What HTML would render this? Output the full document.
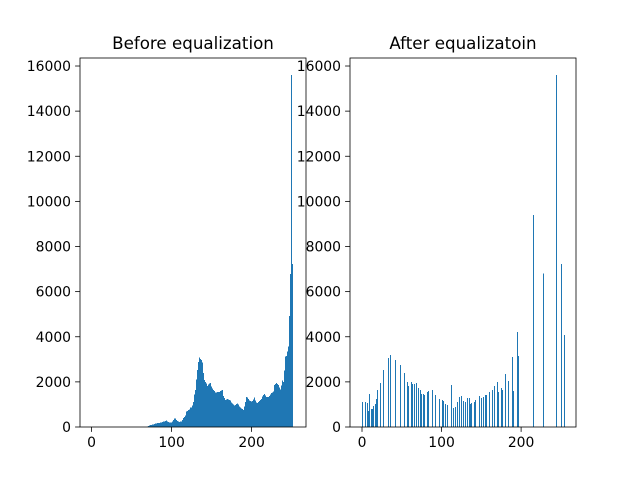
<!DOCTYPE html>
<html><head><meta charset="utf-8"><style>
html,body{margin:0;padding:0;background:#fff;}
svg{display:block;font-family:"DejaVu Sans","Liberation Sans",sans-serif;}
</style></head><body>
<svg id="fig" width="640" height="480" viewBox="0 0 640 480"></svg>
<script>
// Before equalization: counts for bins starting at 70
const beforeStart = 70;
const beforeCounts = [20,40,60,70,80,90,100,110,120,140,150,160,170,170,180,180,200,210,220,230,240,250,270,280,250,240,220,200,190,190,
200,250,300,350,380,370,300,260,240,230,230,240,240,250,300,400,450,520,600,680,720,760,780,840,860,870,950,1100,1230,1450,
1640,2100,2525,2750,2880,3070,3020,2970,2850,2750,2400,2080,2000,1930,1870,1820,1880,1930,1940,1930,1800,1700,1640,1600,1560,1520,1540,1560,1560,1560,
1560,1600,1620,1640,1500,1370,1280,1200,1210,1220,1230,1210,1190,1170,1130,1090,1050,1000,960,930,980,1020,1050,990,930,900,860,830,800,770,
750,900,1110,1220,1340,1300,1230,1170,1150,1130,1120,1160,1220,1260,1300,1180,1080,1060,1050,1100,1150,1200,1240,1270,1350,1420,1460,1400,1340,1340,
1340,1340,1380,1420,1450,1500,1540,1565,1700,1860,1910,1960,1900,1860,1860,1750,1670,1850,2050,2000,2000,2500,3120,3130,3150,3350,3560,4920,5800,6780,
15600,7220];
// After equalization: bin positions and counts
const afterBins = [0,1,5,7,8,10,12,13,15,17,18,20,23,27,33,36,42,48,53,57,58,62,64,66,68,71,73,75,77,79,82,83,88,92,93,97,98,101,102,105,107,108,112,113,115,117,118,120,122,123,125,127,128,130,133,135,137,138,141,143,148,150,153,155,157,160,164,167,170,172,175,177,180,184,189,190,195,197,215,228,244,251,254];
const afterCounts = [1110,800,1110,1065,710,1465,800,800,930,1020,1240,1640,1950,2530,3060,3200,2975,2750,2400,2000,1820,2000,1910,1910,1950,1730,1640,1465,1465,1420,1555,1600,1640,1420,1290,1240,1200,1200,1155,1020,890,975,1865,845,845,800,890,1110,1330,1240,1375,1110,1155,1110,1290,1290,1020,1065,1110,1200,1375,1290,1330,1420,1420,1555,1640,1820,2000,1555,1730,1640,2350,2040,3110,1600,4220,3150,9400,6800,15600,7220,4085];
const xTicks = [0,100,200];
const yTicks = [0,2000,4000,6000,8000,10000,12000,14000,16000];

const NS = "http://www.w3.org/2000/svg";
const svg = document.getElementById('fig');
function mk(tag, attrs, parent){const e=document.createElementNS(NS,tag);for(const k in attrs)e.setAttribute(k,attrs[k]);(parent||svg).appendChild(e);return e;}

function panel(name, L, R, T, B, xmin, xmax, ymax, bins, counts, title){
  const g = mk('g',{});
  
  
  const sx = v => L + (v - xmin) / (xmax - xmin) * (R - L);
  const sy = v => B - v / ymax * (B - T);
  for (let i = 0; i < counts.length; i++) {
    if (!counts[i]) continue;
    const x = Math.round(sx(bins[i]) - 0.5), y = sy(counts[i]);
    const r = mk('rect',{x:x, y:y, width:1, height:B - y, fill:'#1f77b4', 'shape-rendering':'crispEdges'}, g);
    
    
  }
  const frame = mk('rect',{x:L, y:T, width:R-L, height:B-T, fill:'none', stroke:'#000', 'stroke-width':0.8}, g);
  
  
  xTicks.forEach(t => {
    const x = sx(t);
    mk('line',{x1:x, x2:x, y1:B, y2:B+4.9, stroke:'#000', 'stroke-width':0.8}, g);
    const tx = mk('text',{x:x, y:B+20, 'font-size':13.9, 'text-anchor':'middle', fill:'#000'}, g);
    tx.textContent = t;
    
    
  });
  yTicks.forEach(t => {
    const y = sy(t);
    mk('line',{x1:L-4.9, x2:L, y1:y, y2:y, stroke:'#000', 'stroke-width':0.8}, g);
    const tx = mk('text',{x:L-9, y:y+5, 'font-size':13.9, 'text-anchor':'end', fill:'#000'}, g);
    tx.textContent = t;
    
    
  });
  const ti = mk('text',{x:(L+R)/2, y:T-9, 'font-size':16.7, 'text-anchor':'middle', fill:'#000'}, g);
  ti.textContent = title;
  
  
}

const beforeBins = beforeCounts.map((_, i) => beforeStart + i);
panel('before-histogram', 80, 306, 58, 427, -14.5, 268, 16355, beforeBins, beforeCounts, 'Before equalization');
panel('after-histogram', 350, 576, 58, 427, -15.1, 269, 16355, afterBins, afterCounts, 'After equalizatoin');
</script>
</body></html>
